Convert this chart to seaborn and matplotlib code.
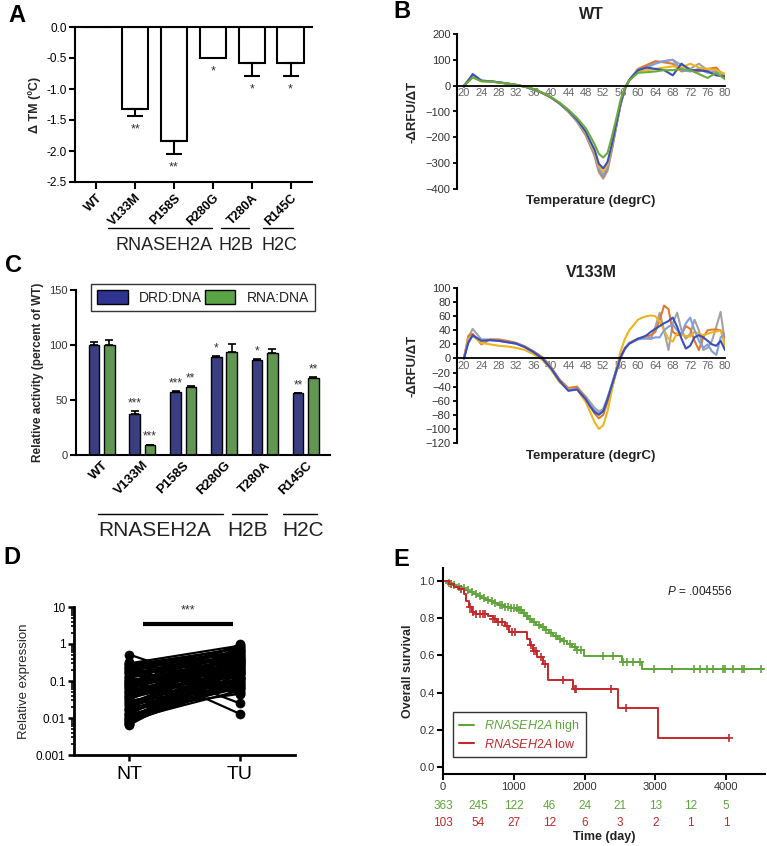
import numpy as np
import pandas as pd
import matplotlib
matplotlib.use('Agg')
import matplotlib.pyplot as plt
import seaborn as sns
from matplotlib.lines import Line2D
from matplotlib.patches import Patch
import matplotlib.ticker as mticker

# ---------------- DATA ----------------
# Panel A
mutants = ['WT', 'V133M', 'P158S', 'R280G', 'T280A', 'R145C']
dtm = [0.0, -1.33, -1.84, -0.50, -0.58, -0.58]
dtm_err = [0.0, 0.11, 0.21, 0.0, 0.21, 0.21]
dtm_stars = ['', '**', '**', '*', '*', '*']

# Panel B (WT melt curves)
temps_wt = [20, 21, 22, 24, 26, 28, 30, 32, 34, 36, 38, 40, 42, 44, 46, 48, 49, 50, 51, 52,
            53, 54, 55, 56, 57, 58, 60, 62, 64, 66, 68, 70, 72, 74, 76, 78, 80]
wt_gray = [3, 22, 38, 19, 17, 13, 8, 3, -4, -14, -28, -46, -70, -101, -140, -193, -232, -272, -335, -360,
           -330, -250, -160, -74, -14, 20, 60, 75, 90, 95, 100, 80, 65, 85, 60, 65, 40]
wt_orange = [0, 18, 35, 18, 17, 13, 8, 3, -4, -14, -28, -46, -70, -100, -138, -190, -228, -266, -327, -352,
             -322, -245, -158, -72, -12, 22, 65, 80, 95, 90, 85, 55, 60, 55, 65, 70, 30]
wt_lblue = [0, 18, 36, 18, 17, 13, 8, 3, -4, -14, -28, -46, -70, -100, -138, -188, -226, -262, -322, -346,
            -317, -240, -156, -72, -12, 22, 62, 70, 85, 95, 100, 60, 55, 65, 50, 55, 45]
wt_yellow = [0, 16, 34, 17, 16, 12, 8, 3, -4, -14, -28, -45, -68, -97, -134, -183, -220, -255, -312, -333,
             -306, -232, -150, -68, -10, 20, 55, 60, 65, 70, 75, 70, 85, 70, 65, 60, 45]
wt_blue = [-5, 20, 45, 20, 17, 13, 8, 3, -4, -14, -28, -45, -68, -96, -132, -178, -214, -247, -302, -320,
           -295, -226, -148, -68, -10, 22, 60, 70, 65, 60, 40, 85, 60, 60, 55, 40, 35]
wt_green = [0, 15, 32, 17, 16, 12, 8, 3, -4, -13, -27, -44, -66, -93, -125, -165, -195, -226, -264, -278,
            -260, -198, -128, -55, -5, 20, 50, 52, 55, 60, 60, 65, 60, 45, 30, 50, 25]

# Panel B (V133M melt curves)
temps_v = [20, 21, 22, 24, 26, 28, 30, 32, 34, 36, 38, 40, 42, 44, 46, 48, 49, 50, 51, 52,
           53, 54, 55, 56, 57, 58, 60, 61, 62, 63, 64, 65, 66, 67, 68, 69, 70, 71, 72, 73,
           74, 75, 76, 77, 78, 79, 80]
v_gray = [0, 30, 42, 27, 27, 26, 24, 22, 17, 10, 1, -13, -31, -43, -42, -54, -62, -70, -75, -72,
          -56, -36, -16, 3, 15, 22, 28, 30, 32, 28, 45, 65, 40, 12, 50, 65, 40, 28, 35, 55,
          40, 12, 15, 25, 45, 66, 22]
v_orange = [0, 32, 35, 20, 27, 27, 25, 22, 17, 10, 2, -12, -30, -42, -40, -56, -68, -78, -85, -80,
            -62, -42, -20, 0, 14, 22, 28, 30, 31, 33, 38, 55, 75, 70, 38, 33, 34, 46, 42, 25,
            12, 30, 40, 41, 41, 40, 30]
v_yellow = [0, 28, 32, 22, 20, 18, 17, 15, 12, 6, -2, -16, -34, -44, -44, -62, -76, -90, -100, -95,
            -75, -45, -15, 10, 28, 40, 55, 58, 60, 61, 60, 52, 40, 28, 24, 36, 33, 32, 31, 38,
            35, 33, 35, 37, 38, 40, 18]
v_lblue = [0, 25, 32, 26, 26, 25, 23, 21, 16, 9, 0, -14, -32, -45, -43, -57, -66, -74, -78, -73,
           -56, -37, -17, 2, 14, 21, 27, 28, 28, 28, 30, 30, 40, 45, 48, 40, 35, 50, 58, 40,
           25, 15, 20, 10, 5, 30, 35]
v_blue = [0, 22, 33, 25, 26, 25, 23, 21, 16, 9, 0, -14, -32, -46, -44, -58, -68, -76, -80, -75,
          -58, -38, -18, 2, 14, 21, 28, 30, 33, 38, 42, 46, 50, 53, 58, 45, 28, 14, 18, 30,
          33, 30, 25, 20, 18, 25, 12]

# Panel C
assays = ['DRD:DNA', 'RNA:DNA']
drd_act = [100, 37, 57, 89, 86, 56]
drd_err = [3, 3, 1, 1, 1, 0.5]
rna_act = [100, 9, 62, 94, 93, 70]
rna_err = [5, 0.5, 1, 7, 3, 0.5]
drd_stars = ['', '***', '***', '*', '*', '**']
rna_stars = ['', '***', '**', '', '', '**']

# Panel D
nt_expr = [0.52, 0.33, 0.30, 0.28, 0.26, 0.24, 0.22, 0.20, 0.18, 0.16, 0.15, 0.13, 0.12, 0.11, 0.10,
           0.095, 0.09, 0.085, 0.08, 0.075, 0.07, 0.065, 0.06, 0.055, 0.05, 0.046, 0.042, 0.038,
           0.034, 0.030, 0.027, 0.024, 0.021, 0.019, 0.017, 0.015, 0.013, 0.012, 0.011, 0.010,
           0.0092, 0.0085, 0.008, 0.0075, 0.007, 0.0068, 0.0065,
           0.29, 0.27, 0.23, 0.21, 0.19, 0.17, 0.14, 0.125, 0.105, 0.098, 0.088, 0.078, 0.068,
           0.058, 0.052, 0.044, 0.040, 0.036, 0.032, 0.028, 0.025, 0.022, 0.018, 0.016, 0.014,
           0.0125, 0.0105, 0.0095, 0.0088, 0.0078]
tu_expr = [0.05, 0.025, 0.90, 0.013, 0.60, 0.35, 0.80, 0.045, 0.30, 0.25, 0.50, 0.20, 0.70, 0.15, 0.40,
           0.12, 0.28, 0.95, 0.18, 0.22, 0.10, 0.33, 0.085, 0.26, 0.14, 0.50, 0.075, 0.30,
           0.20, 0.06, 0.16, 0.10, 0.35, 0.065, 0.045, 0.12, 0.25, 0.07, 0.09, 0.18,
           0.055, 0.15, 0.08, 0.11, 1.0, 0.38, 0.24,
           0.40, 0.75, 0.55, 0.30, 0.65, 0.20, 0.45, 0.85, 0.17, 0.60, 0.13, 0.42, 0.27, 0.70,
           0.095, 0.32, 0.58, 0.21, 0.48, 0.11, 0.36, 0.08, 0.44, 0.19, 0.29, 0.065, 0.23,
           0.15, 0.40, 0.12]

# Panel E (Kaplan-Meier)
high_t = [0, 60, 120, 180, 240, 300, 360, 420, 480, 540, 600, 660, 720, 780, 860, 950, 1050, 1120,
          1160, 1200, 1260, 1320, 1380, 1440, 1500, 1560, 1620, 1680, 1750, 1820, 1900, 1990,
          2525, 2810, 4520]
high_s = [1.0, 0.99, 0.98, 0.97, 0.96, 0.95, 0.94, 0.93, 0.92, 0.91, 0.90, 0.89, 0.88, 0.87, 0.86,
          0.855, 0.845, 0.83, 0.81, 0.795, 0.78, 0.765, 0.75, 0.735, 0.72, 0.705, 0.69, 0.675,
          0.66, 0.645, 0.63, 0.595, 0.565, 0.527, 0.527]
high_cens = [80, 150, 230, 290, 350, 410, 470, 520, 580, 640, 690, 740, 800, 840, 880, 920, 960,
             1000, 1040, 1080, 1100, 1140, 1180, 1230, 1290, 1350, 1410, 1460, 1530, 1590, 1650,
             1710, 1790, 1870, 1900, 1950, 2255, 2397, 2539, 2596, 2681, 2780, 2979, 3234, 3546,
             3631, 3730, 3816, 3957, 3986, 4099, 4227, 4255, 4496]
low_t = [0, 80, 150, 220, 290, 330, 370, 410, 460, 640, 700, 760, 880, 930, 1180, 1230, 1270,
         1330, 1420, 1490, 1840, 2470, 3040, 4040]
low_s = [1.0, 0.985, 0.97, 0.955, 0.93, 0.89, 0.86, 0.835, 0.82, 0.81, 0.795, 0.78, 0.76, 0.725,
         0.69, 0.655, 0.625, 0.59, 0.555, 0.47, 0.42, 0.315, 0.157, 0.157]
low_cens = [120, 250, 380, 420, 470, 520, 560, 600, 700, 730, 780, 830, 900, 980, 1020, 1250,
            1290, 1310, 1380, 1440, 1690, 1860, 1880, 2380, 2590, 4040]
risk_times = [0, 500, 1000, 1500, 2000, 2500, 3000, 3500, 4000]
risk_high = [363, 245, 122, 46, 24, 21, 13, 12, 5]
risk_low = [103, 54, 27, 12, 6, 3, 2, 1, 1]

# ---------------- STYLE ----------------
sns.set_theme(style='ticks')
plt.rcParams['font.family'] = ['Liberation Sans', 'DejaVu Sans']
plt.rcParams['mathtext.fontset'] = 'custom'
plt.rcParams['mathtext.it'] = 'Liberation Sans:italic'
plt.rcParams['mathtext.rm'] = 'Liberation Sans'
plt.rcParams['axes.linewidth'] = 1.5
plt.rcParams['axes.edgecolor'] = 'black'
plt.rcParams['xtick.color'] = 'black'
plt.rcParams['ytick.color'] = 'black'
plt.rcParams['text.color'] = '#222222'

W, H = 767, 846
fig = plt.figure(figsize=(W / 100, H / 100), dpi=100)


def rect(l, t, r, b):
    return [l / W, 1 - b / H, (r - l) / W, (b - t) / H]


def fx(x):
    return x / W


def fy(y):
    return 1 - y / H


def hline(x0, x1, y, lw=1.0):
    fig.add_artist(Line2D([fx(x0), fx(x1)], [fy(y), fy(y)], transform=fig.transFigure,
                          color='black', lw=lw))


# Panel letters
for lab, x, y in [('A', 8, 15), ('B', 393, 11), ('C', 5, 265), ('D', 3, 558), ('E', 393, 559)]:
    fig.text(fx(x), fy(y), lab, fontsize=17, fontweight='bold', ha='left', va='center', color='black')

# ---------------- PANEL A ----------------
axA = fig.add_axes(rect(75, 27, 312, 182))
dfA = pd.DataFrame({'mut': mutants, 'dtm': dtm})
sns.barplot(data=dfA, x='mut', y='dtm', color='white', edgecolor='black', linewidth=1.5,
            width=0.68, errorbar=None, ax=axA)
for i, (v, e, s) in enumerate(zip(dtm, dtm_err, dtm_stars)):
    if e > 0:
        axA.errorbar(i, v, yerr=[[e], [0]], fmt='none', ecolor='black', elinewidth=1.5,
                     capsize=6, capthick=1.5)
    if s:
        axA.text(i, v - e - 0.12, s, ha='center', va='top', fontsize=9, color='#333333')
axA.set_ylim(-2.5, 0)
axA.set_xlim(-0.55, 5.55)
axA.spines['right'].set_visible(False)
axA.set_yticks([0, -0.5, -1.0, -1.5, -2.0, -2.5])
axA.yaxis.set_major_formatter(mticker.FormatStrFormatter('%.1f'))
axA.tick_params(axis='y', labelsize=8.5, length=4, width=1.5, pad=2)
axA.tick_params(axis='x', length=5, width=1.5, pad=2)
axA.set_xticks(range(len(mutants)))
axA.set_xticklabels(mutants, rotation=45, ha='right', rotation_mode='anchor',
                    fontsize=9, fontweight='bold')
axA.set_xlabel('')
axA.set_ylabel('Δ TM (ºC)', fontsize=9, fontweight='bold', labelpad=4)

hline(108, 212, 228)
hline(221, 249, 228)
hline(263, 293, 228)
fig.text(fx(164), fy(245), 'RNASEH2A', fontsize=13, ha='center', va='center')
fig.text(fx(236), fy(245), 'H2B', fontsize=13, ha='center', va='center')
fig.text(fx(279), fy(245), 'H2C', fontsize=13, ha='center', va='center')

# ---------------- PANEL B ----------------
b_colors = {'gray': '#a3a3a3', 'orange': '#e07a2e', 'lblue': '#7f9fe0', 'yellow': '#f0b51e',
            'blue': '#3b4fb8', 'green': '#6aab3c'}


def melt_panel(rect_px, temps, series, ylim, yticks, title, title_y, xlabel_y):
    ax = fig.add_axes(rect(*rect_px))
    rows = []
    for name, vals in series:
        for t, v in zip(temps, vals):
            rows.append((name, t, v))
    df = pd.DataFrame(rows, columns=['run', 'T', 'val'])
    order = [n for n, _ in series]
    sns.lineplot(data=df, x='T', y='val', hue='run', hue_order=order,
                 palette=[b_colors[n] for n in order], estimator=None, sort=False,
                 lw=1.5, legend=False, ax=ax)
    ax.set_xlim(18.4, 80)
    ax.set_ylim(*ylim)
    ax.spines['bottom'].set_position(('data', 0))
    ax.spines['bottom'].set_linewidth(1.3)
    ax.spines['top'].set_visible(False)
    ax.spines['right'].set_visible(False)
    ax.set_xticks([20, 24, 28, 32, 36, 40, 44, 48, 52, 56, 60, 64, 68, 72, 76, 80])
    ax.tick_params(axis='x', length=0, labelsize=8, labelcolor='#666666', pad=2)
    ax.set_yticks(yticks)
    ax.tick_params(axis='y', length=3, width=1.3, labelsize=8, pad=1.5, labelcolor='#333333')
    ax.set_xlabel('')
    ax.set_ylabel('-ΔRFU/ΔT', fontsize=9.5, fontweight='bold', labelpad=5)
    ax.text(0.5, xlabel_y, 'Temperature (degrC)', transform=ax.transAxes, ha='center',
            va='center', fontsize=9.5, fontweight='bold')
    ax.text(0.5, title_y, title, transform=ax.transAxes, ha='center', va='center',
            fontsize=11.5, fontweight='bold')
    return ax


melt_panel((457, 34, 725, 189), temps_wt,
           [('gray', wt_gray), ('orange', wt_orange), ('lblue', wt_lblue),
            ('yellow', wt_yellow), ('blue', wt_blue), ('green', wt_green)],
           (-400, 200), [-400, -300, -200, -100, 0, 100, 200], 'WT', 1.123, -0.077)
melt_panel((457, 288, 725, 443), temps_v,
           [('gray', v_gray), ('orange', v_orange), ('yellow', v_yellow),
            ('lblue', v_lblue), ('blue', v_blue)],
           (-120, 100), [-120, -100, -80, -60, -40, -20, 0, 20, 40, 60, 80, 100],
           'V133M', 1.103, -0.084)

# ---------------- PANEL C ----------------
navy = '#2e3590'
cgreen = '#5aa445'
axC = fig.add_axes(rect(76, 290, 330, 455))
dfC = pd.DataFrame({'mut': mutants * 2,
                    'assay': [assays[0]] * 6 + [assays[1]] * 6,
                    'val': drd_act + rna_act})
sns.barplot(data=dfC, x='mut', y='val', hue='assay', hue_order=assays, palette=[navy, cgreen],
            width=0.75, gap=0.3, edgecolor='black', linewidth=1.0, errorbar=None,
            legend=False, ax=axC)
for cont, errs, stars in zip(axC.containers, [drd_err, rna_err], [drd_stars, rna_stars]):
    for bar, e, s in zip(cont, errs, stars):
        xc = bar.get_x() + bar.get_width() / 2
        h = bar.get_height()
        axC.errorbar(xc, h, yerr=[[0], [e]], fmt='none', ecolor='black', elinewidth=1.2,
                     capsize=3, capthick=1.2)
        if s:
            axC.text(xc, h + e + 1.5, s, ha='center', va='bottom', fontsize=8.5, color='#333333')
axC.set_ylim(0, 150)
axC.set_xlim(-0.63, 5.6)
axC.set_yticks([0, 50, 100, 150])
axC.spines['top'].set_visible(False)
axC.spines['right'].set_visible(False)
axC.tick_params(axis='y', labelsize=8, length=4, width=1.5, pad=2, labelcolor='#333333')
axC.tick_params(axis='x', length=0, pad=3)
axC.set_xticks(range(6))
axC.set_xticklabels(mutants, rotation=45, ha='right', rotation_mode='anchor',
                    fontsize=9.5, fontweight='bold')
axC.set_xlabel('')
axC.set_ylabel('Relative activity (percent of WT)', fontsize=8.5, fontweight='bold', labelpad=4)
legC = axC.legend(handles=[Patch(facecolor=navy, edgecolor='black', lw=1),
                           Patch(facecolor=cgreen, edgecolor='black', lw=1)],
                  labels=assays, ncol=2, loc='upper left', bbox_to_anchor=(0.059, 1.036, 0.882, 0.0),
                  mode='expand', frameon=True, fancybox=False, edgecolor='black', fontsize=10,
                  handlelength=2.2, handleheight=1.1, borderpad=0.45, columnspacing=2.0,
                  borderaxespad=0)
legC.get_frame().set_linewidth(1.0)

hline(98, 223, 514)
hline(232, 267, 514)
hline(283, 317, 514)
fig.text(fx(155), fy(530), 'RNASEH2A', fontsize=15, ha='center', va='center')
fig.text(fx(248), fy(530), 'H2B', fontsize=15, ha='center', va='center')
fig.text(fx(303), fy(530), 'H2C', fontsize=15, ha='center', va='center')

# ---------------- PANEL D ----------------
axD = fig.add_axes(rect(74, 607, 295, 755))
n_pairs = len(nt_expr)
dfD = pd.DataFrame({'id': list(range(n_pairs)) * 2,
                    'pos': [0] * n_pairs + [1] * n_pairs,
                    'val': nt_expr + tu_expr})
sns.lineplot(data=dfD, x='pos', y='val', units='id', estimator=None, color='black', lw=1.6,
             legend=False, ax=axD)
sns.scatterplot(data=dfD, x='pos', y='val', color='black', s=42, edgecolor='black',
                legend=False, ax=axD, zorder=3)
axD.set_yscale('log')
axD.set_ylim(0.001, 10)
axD.set_xlim(-0.5, 1.5)
axD.set_xticks([0, 1])
axD.set_xticklabels(['NT', 'TU'], fontsize=14)
axD.set_yticks([0.001, 0.01, 0.1, 1, 10])
axD.set_yticklabels(['0.001', '0.01', '0.1', '1', '10'])
axD.yaxis.set_minor_locator(mticker.LogLocator(base=10, subs=np.arange(2, 10) * 1.0, numticks=20))
axD.yaxis.set_minor_formatter(mticker.NullFormatter())
axD.tick_params(axis='y', which='major', labelsize=8.5, length=4, width=1.8, pad=2)
axD.tick_params(axis='y', which='minor', length=2.5, width=1.2)
axD.tick_params(axis='x', length=4, width=1.8, pad=4)
axD.spines['top'].set_visible(False)
axD.spines['right'].set_visible(False)
axD.spines['left'].set_linewidth(2)
axD.spines['bottom'].set_linewidth(2)
axD.set_xlabel('')
axD.set_ylabel('Relative expression', fontsize=9.5, labelpad=4)
axD.plot([0.12, 0.94], [3.47, 3.47], color='black', lw=3, solid_capstyle='butt')
axD.text(0.53, 5.6, '***', ha='center', va='bottom', fontsize=9, color='#333333')

# ---------------- PANEL E ----------------
kgreen = '#5fa53a'
kred = '#c4282a'
axE = fig.add_axes(rect(443, 568, 765, 774))
dfHigh = pd.DataFrame({'t': high_t, 's': high_s})
dfLow = pd.DataFrame({'t': low_t, 's': low_s})
sns.lineplot(data=dfHigh, x='t', y='s', estimator=None, sort=False, drawstyle='steps-post',
             color=kgreen, lw=1.4, ax=axE)
sns.lineplot(data=dfLow, x='t', y='s', estimator=None, sort=False, drawstyle='steps-post',
             color=kred, lw=1.4, ax=axE)


def step_lookup(ts, ss, c):
    idx = np.searchsorted(ts, c, side='right') - 1
    return ss[max(idx, 0)]


hc_y = [step_lookup(high_t, high_s, c) for c in high_cens]
lc_y = [step_lookup(low_t, low_s, c) for c in low_cens]
sns.scatterplot(x=high_cens, y=hc_y, marker='+', s=40, color=kgreen, linewidth=1.2, ax=axE,
                legend=False)
sns.scatterplot(x=low_cens, y=lc_y, marker='+', s=40, color=kred, linewidth=1.2, ax=axE,
                legend=False)
axE.set_xlim(0, 4550)
axE.set_ylim(-0.038, 1.07)
axE.set_yticks([0, 0.2, 0.4, 0.6, 0.8, 1.0])
axE.yaxis.set_major_formatter(mticker.FormatStrFormatter('%.1f'))
axE.set_xticks([0, 1000, 2000, 3000, 4000])
axE.tick_params(axis='both', labelsize=8, length=4, width=1.5, pad=2, labelcolor='#333333')
axE.spines['top'].set_visible(False)
axE.spines['right'].set_visible(False)
axE.set_ylabel('Overall survival', fontsize=9, fontweight='bold', labelpad=4)
axE.set_xlabel('')
axE.text(0.5, (774 - 837) / 206, 'Time (day)', transform=axE.transAxes, ha='center',
         va='center', fontsize=9, fontweight='bold')
for t, nh, nl in zip(risk_times, risk_high, risk_low):
    axE.text(t, (774 - 806) / 206, str(nh), transform=axE.get_xaxis_transform(), ha='center',
             va='center', fontsize=8.5, color=kgreen)
    axE.text(t, (774 - 823) / 206, str(nl), transform=axE.get_xaxis_transform(), ha='center',
             va='center', fontsize=8.5, color=kred)
axE.text(3160, 0.946, r'$\it{P}$ = .004556', ha='left', va='center', fontsize=8.5, color='#222222')
legE = axE.legend(handles=[Line2D([0], [0], color=kgreen, lw=1.5), Line2D([0], [0], color=kred, lw=1.5)],
                  labels=[r'$\it{RNASEH2A}$ high', r'$\it{RNASEH2A}$ low'],
                  loc='lower left', bbox_to_anchor=(0.03, 0.083), frameon=True, fancybox=False,
                  edgecolor='black', fontsize=9, handlelength=1.2, borderpad=0.5,
                  labelspacing=0.3, borderaxespad=0)
legE.get_frame().set_linewidth(1.0)
for txt, c in zip(legE.get_texts(), [kgreen, kred]):
    txt.set_color(c)

fig.savefig('out.png', dpi=100)
